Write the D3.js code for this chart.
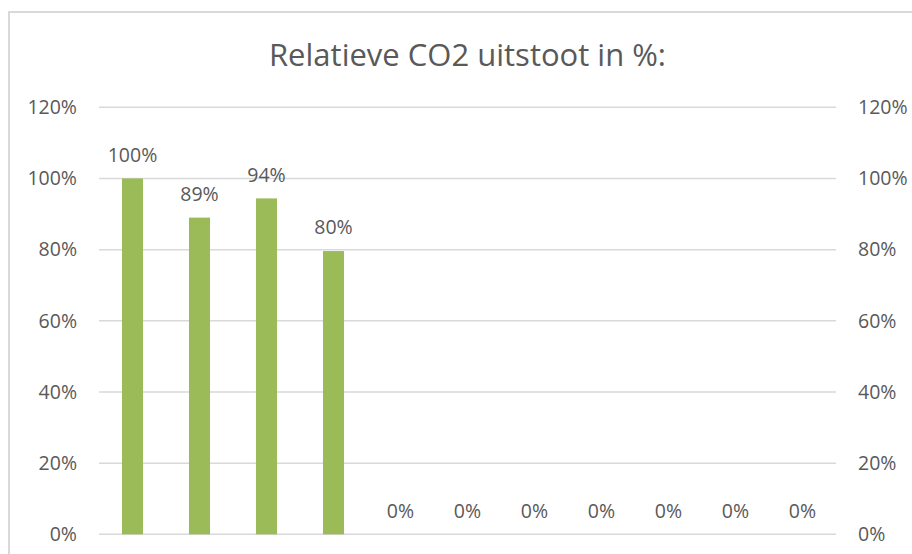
<!DOCTYPE html>
<html>
<head>
<meta charset="utf-8">
<script src="https://cdn.jsdelivr.net/npm/d3@7"></script>
<style>
  html, body { margin: 0; padding: 0; background: #fff; }
  svg { display: block; }
  text { font-family: "Open Sans", "Liberation Sans", sans-serif; fill: #595959; }
</style>
</head>
<body>
<div id="chart"></div>
<script>
// chart data
var categories = ["1", "2", "3", "4", "5", "6", "7", "8", "9", "10", "11"]
var values = [1.00, 0.89, 0.944, 0.796, 0, 0, 0, 0, 0, 0, 0]
var yTicks = [0, 0.2, 0.4, 0.6, 0.8, 1.0, 1.2]
var title = "Relatieve CO2 uitstoot in %:"

var width = 912,
    height = 554

var svg = d3.select("#chart")
    .append("svg")
        .attr("width", width)
        .attr("height", height)

// outer chart border (runs off the right and bottom edge)
svg.append("rect")
    .attr("x", 9)
    .attr("y", 12)
    .attr("width", 920)
    .attr("height", 600)
    .style("fill", "none")
    .style("stroke", "#d9d9d9")
    .style("stroke-width", 2)

var plot = {left: 99, right: 836, top: 107.3, bottom: 534.3}

var x = d3.scaleBand()
    .domain(categories)
    .range([plot.left, plot.right])
    .paddingInner(0.686)
    .paddingOuter(0.343)

var y = d3.scaleLinear()
    .domain([0, 1.2])
    .range([plot.bottom, plot.top])

var fmt = d3.format(".0%")

// title
svg.append("text")
    .attr("x", (plot.left + plot.right) / 2)
    .attr("y", 66)
    .attr("text-anchor", "middle")
    .attr("font-size", 31)
    .text(title)

// gridlines
svg.append("g")
    .selectAll("line")
    .data(yTicks)
    .enter()
    .append("line")
    .attr("x1", plot.left)
    .attr("x2", plot.right)
    .attr("y1", function(d) { return y(d) })
    .attr("y2", function(d) { return y(d) })
    .style("stroke", "#d9d9d9")
    .style("stroke-width", 1.5)

// left and right axes, no domain line or ticks
var leftAxis = d3.axisLeft(y).tickValues(yTicks).tickFormat(fmt).tickSize(0).tickPadding(22)
var rightAxis = d3.axisRight(y).tickValues(yTicks).tickFormat(fmt).tickSize(0).tickPadding(22)

var gl = svg.append("g")
    .attr("transform", "translate(" + plot.left + ",0)")
    .call(leftAxis)
var gr = svg.append("g")
    .attr("transform", "translate(" + plot.right + ",0)")
    .call(rightAxis)

;[gl, gr].forEach(function(g) {
    g.select(".domain").remove()
    g.selectAll("text")
        .attr("font-size", 19.5)
        .style("fill", "#595959")
    g.attr("font-family", null)
})

// bars
svg.append("g")
    .selectAll("rect")
    .data(values)
    .enter()
    .append("rect")
    .attr("x", function(d, i) { return x(categories[i]) })
    .attr("y", function(d) { return y(d) })
    .attr("width", x.bandwidth())
    .attr("height", function(d) { return plot.bottom - y(d) })
    .style("fill", "#9bbb59")

// data labels
svg.append("g")
    .selectAll("text")
    .data(values)
    .enter()
    .append("text")
    .attr("x", function(d, i) { return x(categories[i]) + x.bandwidth() / 2 })
    .attr("y", function(d) { return y(d) - 16.6 })
    .attr("text-anchor", "middle")
    .attr("font-size", 19.5)
    .text(function(d) { return fmt(d) })
</script>
</body>
</html>
